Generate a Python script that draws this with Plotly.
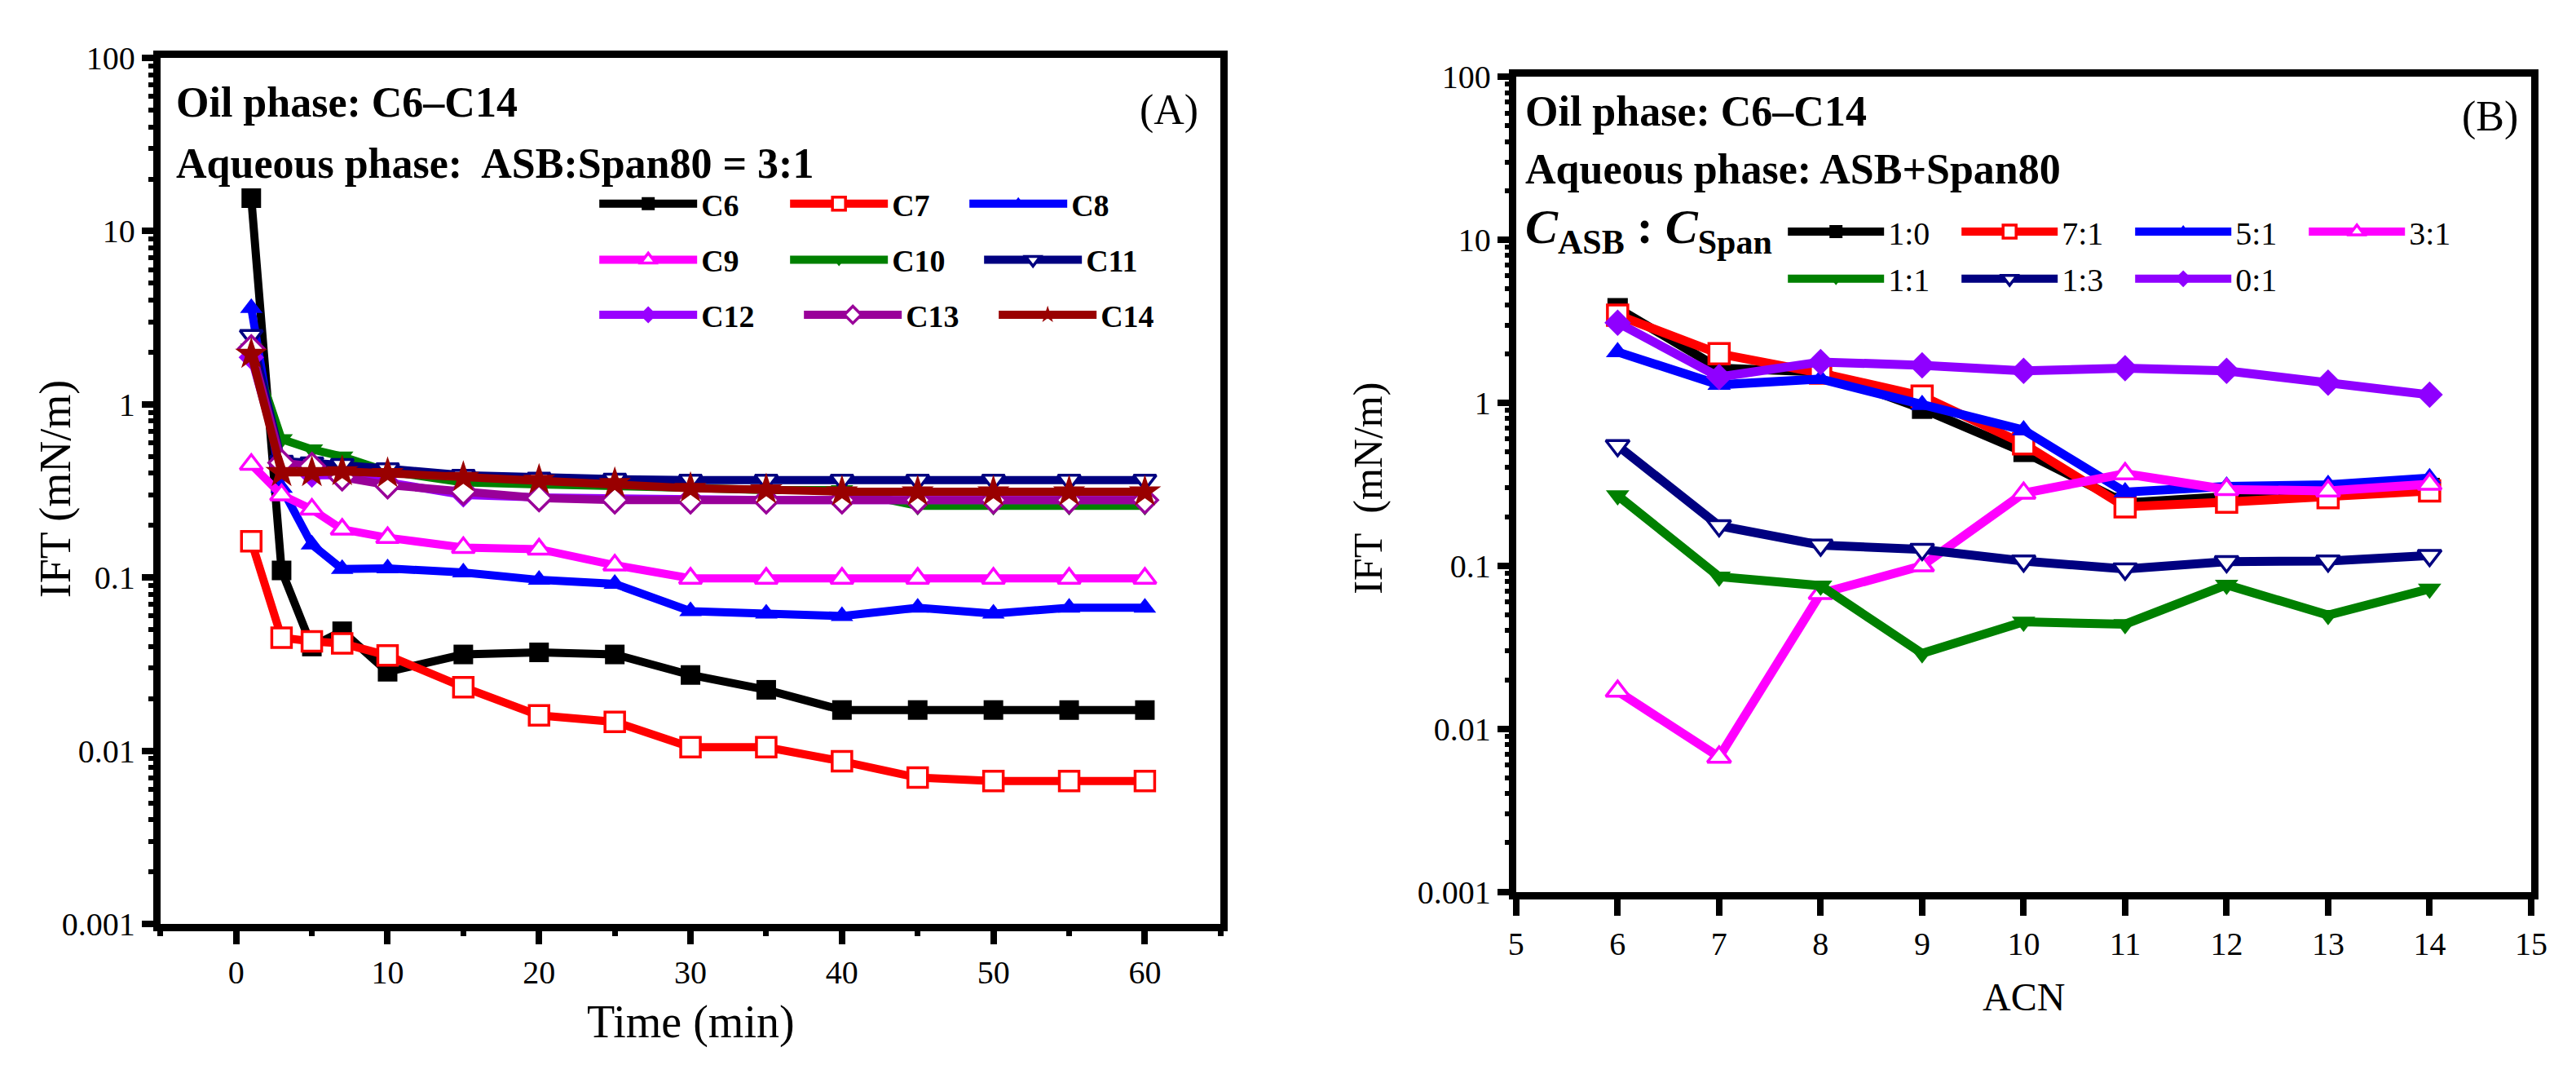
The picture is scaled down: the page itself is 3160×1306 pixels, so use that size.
import plotly.graph_objects as go

# ---------------- Panel A data (IFT vs time) ----------------
time_min = [1, 3, 5, 7, 10, 15, 20, 25, 30, 35, 40, 45, 50, 55, 60]
ift_c6 = [15.5, 0.11, 0.040, 0.049, 0.0286, 0.036, 0.037, 0.036, 0.0274, 0.0225, 0.0172, 0.0172, 0.0172, 0.0172, 0.0172]
ift_c7 = [0.162, 0.045, 0.0428, 0.0417, 0.0355, 0.0233, 0.016, 0.0147, 0.0105, 0.0105, 0.0087, 0.0070, 0.0067, 0.0067, 0.0067]
ift_c8 = [3.6, 0.33, 0.155, 0.112, 0.113, 0.107, 0.097, 0.092, 0.064, 0.062, 0.060, 0.067, 0.062, 0.067, 0.067]
ift_c9 = [0.45, 0.30, 0.248, 0.19, 0.17, 0.149, 0.146, 0.118, 0.099, 0.099, 0.099, 0.099, 0.099, 0.099, 0.099]
ift_c10 = [2.1, 0.63, 0.55, 0.50, 0.41, 0.355, 0.345, 0.34, 0.33, 0.32, 0.32, 0.26, 0.26, 0.26, 0.26]
ift_c11 = [2.5, 0.47, 0.46, 0.45, 0.425, 0.39, 0.375, 0.37, 0.365, 0.365, 0.365, 0.365, 0.365, 0.365, 0.365]
ift_c12 = [1.87, 0.44, 0.39, 0.39, 0.355, 0.30, 0.29, 0.285, 0.28, 0.28, 0.28, 0.28, 0.28, 0.28, 0.28]
ift_c13 = [2.1, 0.46, 0.44, 0.38, 0.342, 0.314, 0.288, 0.28, 0.28, 0.28, 0.28, 0.28, 0.28, 0.28, 0.28]
ift_c14 = [1.95, 0.405, 0.405, 0.41, 0.40, 0.38, 0.365, 0.35, 0.328, 0.322, 0.313, 0.313, 0.313, 0.313, 0.313]

a_names = ["C6", "C7", "C8", "C9", "C10", "C11", "C12", "C13", "C14"]
a_values = [ift_c6, ift_c7, ift_c8, ift_c9, ift_c10, ift_c11, ift_c12, ift_c13, ift_c14]

# ---------------- Panel B data (IFT vs ACN) ----------------
acn = [6, 7, 8, 9, 10, 11, 12, 13, 14]
ift_1_0 = [3.8, 1.63, 1.55, 0.92, 0.50, 0.243, 0.266, 0.275, 0.30]
ift_7_1 = [3.45, 2.0, 1.52, 1.10, 0.56, 0.23, 0.246, 0.262, 0.288]
ift_5_1 = [2.05, 1.29, 1.40, 0.97, 0.68, 0.283, 0.307, 0.314, 0.345]
ift_3_1 = [0.017, 0.0067, 0.0676, 0.10, 0.279, 0.367, 0.294, 0.288, 0.317]
ift_1_1 = [0.27, 0.0857, 0.0755, 0.029, 0.0453, 0.0438, 0.0764, 0.0498, 0.0722]
ift_1_3 = [0.546, 0.176, 0.134, 0.126, 0.107, 0.0955, 0.106, 0.107, 0.1157]
ift_0_1 = [3.1, 1.44, 1.78, 1.70, 1.57, 1.63, 1.57, 1.33, 1.12]

b_names = ["1:0", "7:1", "5:1", "3:1", "1:1", "1:3", "0:1"]
b_values = [ift_1_0, ift_7_1, ift_5_1, ift_3_1, ift_1_1, ift_1_3, ift_0_1]

# y tick labels
y_tickvals = [0.001, 0.01, 0.1, 1, 10, 100]
y_ticktext = ["0.001", "0.01", "0.1", "1", "10", "100"]

W, H = 3160, 1306

# styles: (color, symbol, filled)
a_styles = [
    ("#000000", "square", True),
    ("#FF0000", "square", False),
    ("#0000FF", "triangle-up", True),
    ("#FF00FF", "triangle-up", False),
    ("#008000", "triangle-down", True),
    ("#000080", "triangle-down", False),
    ("#9900FF", "diamond", True),
    ("#990099", "diamond", False),
    ("#990000", "star", True),
]
a_legend = ["legend", "legend", "legend", "legend2", "legend2", "legend2", "legend3", "legend3", "legend3"]
a_lw = [99, 85, 100, 99, 103, 100, 116, 104, 100]

b_styles = [
    ("#000000", "square", True),
    ("#FF0000", "square", False),
    ("#0000FF", "triangle-up", True),
    ("#FF00FF", "triangle-up", False),
    ("#008000", "triangle-down", True),
    ("#000080", "triangle-down", False),
    ("#8F00FF", "diamond", True),
]
b_legend = ["legend4", "legend4", "legend4", "legend4", "legend5", "legend5", "legend5"]

fig = go.Figure()

for name, vals, (col, sym, filled), lg, lw in zip(a_names, a_values, a_styles, a_legend, a_lw):
    fig.add_trace(go.Scatter(
        x=time_min, y=vals, name=name, mode="lines+markers",
        line=dict(color=col, width=10),
        marker=dict(symbol=sym, size=24 if sym != "star" else 30,
                    color=col if filled else "white",
                    line=dict(color=col, width=0 if filled else 3.5)),
        xaxis="x", yaxis="y", legend=lg, legendwidth=lw,
    ))

for name, vals, (col, sym, filled), lg in zip(b_names, b_values, b_styles, b_legend):
    fig.add_trace(go.Scatter(
        x=acn, y=vals, name=name, mode="lines+markers",
        line=dict(color=col, width=11),
        marker=dict(symbol=sym, size=25,
                    color=col if filled else "white",
                    line=dict(color=col, width=0 if filled else 3.5)),
        xaxis="x2", yaxis="y2", legend=lg, legendwidth=80,
    ))

def px_x(p):
    return p / W

def px_y(p):
    return 1 - p / H

tickfont = dict(family="Liberation Serif", size=40, color="black")
axis_common = dict(showline=True, linewidth=9, linecolor="black", mirror=True,
                   ticks="outside", tickcolor="black", showgrid=False, zeroline=False,
                   tickfont=tickfont)

fig.update_layout(
    width=W, height=H,
    margin=dict(l=0, r=0, t=0, b=0),
    paper_bgcolor="white", plot_bgcolor="white",
    xaxis=dict(domain=[px_x(180.5), px_x(1493.5)], range=[-5, 65], dtick=10, tick0=0,
               ticklen=16, tickwidth=8,
               minor=dict(ticks="outside", dtick=5, tick0=0, ticklen=6, tickwidth=7, tickcolor="black"),
               anchor="y", **axis_common),
    yaxis=dict(domain=[px_y(1142.5), px_y(42.5)], type="log", range=[-3, 2],
               tickmode="array", tickvals=y_tickvals, ticktext=y_ticktext,
               ticklen=14, tickwidth=8,
               minor=dict(ticks="outside", dtick="D1", ticklen=6, tickwidth=6, tickcolor="black"),
               anchor="x", **axis_common),
    xaxis2=dict(domain=[px_x(1859.5), px_x(3116.5)], range=[5, 15], dtick=1, tick0=5,
                ticklen=20, tickwidth=8, anchor="y2", **axis_common),
    yaxis2=dict(domain=[px_y(1101.5), px_y(66.5)], type="log", range=[-3, 2],
                tickmode="array", tickvals=y_tickvals, ticktext=y_ticktext,
                ticklen=14, tickwidth=8,
                minor=dict(ticks="outside", dtick="D1", ticklen=5, tickwidth=6, tickcolor="black"),
                anchor="x2", **axis_common),
)

legA_font = dict(family="Liberation Serif", size=38, color="black", weight="bold")
legB_font = dict(family="Liberation Serif", size=40, color="black")
leg_common = dict(orientation="h", xanchor="left", yanchor="middle", bgcolor="rgba(0,0,0,0)",
                  borderwidth=0, entrywidthmode="pixels", itemsizing="trace", traceorder="normal")
fig.update_layout(
    legend=dict(x=px_x(719), y=px_y(228), itemwidth=120, font=legA_font, **leg_common),
    legend2=dict(x=px_x(719), y=px_y(299), itemwidth=120, font=legA_font, **leg_common),
    legend3=dict(x=px_x(719), y=px_y(369), itemwidth=120, font=legA_font, **leg_common),
    legend4=dict(x=px_x(2191), y=px_y(263), itemwidth=118, font=legB_font, **leg_common),
    legend5=dict(x=px_x(2191), y=px_y(323), itemwidth=118, font=legB_font, **leg_common),
)

bold52 = dict(family="Liberation Serif", size=52, color="black", weight="bold")
reg52 = dict(family="Liberation Serif", size=52, color="black")
annots = [
    dict(text="Oil phase: C6–C14", x=px_x(198), y=px_y(99), xanchor="left", yanchor="middle", font=bold52),
    dict(text="Aqueous phase:  ASB:Span80 = 3:1", x=px_x(198), y=px_y(177), xanchor="left", yanchor="middle", font=bold52),
    dict(text="(A)", x=px_x(1468), y=px_y(109), xanchor="right", yanchor="middle", font=reg52),
    dict(text="Oil phase: C6–C14", x=px_x(1869), y=px_y(110), xanchor="left", yanchor="middle", font=bold52),
    dict(text="Aqueous phase: ASB+Span80", x=px_x(1869), y=px_y(184), xanchor="left", yanchor="middle", font=bold52),
    dict(text="<i>C</i><sub>ASB</sub> : <i>C</i><sub>Span</sub>", x=px_x(1869), y=px_y(262),
         xanchor="left", yanchor="middle", font=dict(family="Liberation Serif", size=60, color="black", weight="bold")),
    dict(text="(B)", x=px_x(3102), y=px_y(117), xanchor="right", yanchor="middle", font=reg52),
    # axis titles
    dict(text="IFT (mN/m)", x=px_x(50), y=px_y(590), textangle=-90, xanchor="center", yanchor="middle",
         font=dict(family="Liberation Serif", size=54, color="black")),
    dict(text="Time (min)", x=px_x(837), y=px_y(1267), xanchor="center", yanchor="middle",
         font=dict(family="Liberation Serif", size=56, color="black")),
    dict(text="IFT  (mN/m)", x=px_x(1676), y=px_y(589), textangle=-90, xanchor="center", yanchor="middle",
         font=dict(family="Liberation Serif", size=50, color="black")),
    dict(text="ACN", x=px_x(2488), y=px_y(1235), xanchor="center", yanchor="middle",
         font=dict(family="Liberation Serif", size=48, color="black")),
]
for a in annots:
    fig.add_annotation(xref="paper", yref="paper", showarrow=False, **a)

fig.write_html("out.html")
